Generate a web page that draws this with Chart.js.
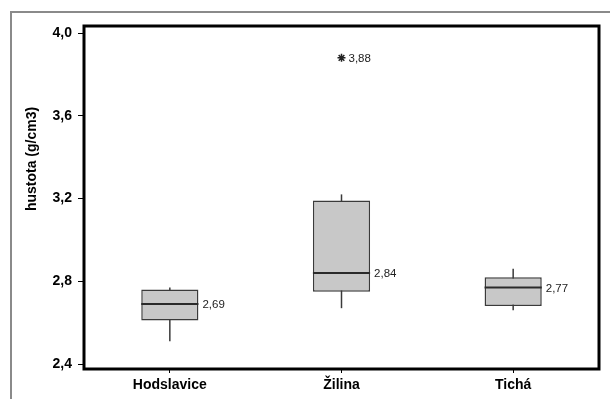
<!DOCTYPE html>
<html>
<head>
<meta charset="utf-8">
<script src="https://cdn.jsdelivr.net/npm/chart.js@4.4.1/dist/chart.umd.min.js"></script>
<style>
  body { margin: 0; background: #fff; }
</style>
</head>
<body>
<canvas id="densityChart" width="610" height="399"></canvas>
<script>
// box plot values (g/cm3)
const categories = ['Hodslavice', 'Žilina', 'Tichá'];
const whiskerLow = [2.51, 2.67, 2.66];
const quartile1 = [2.61, 2.75, 2.68];
const medians = [2.69, 2.84, 2.77];
const quartile3 = [2.76, 3.19, 2.82];
const whiskerHigh = [2.77, 3.22, 2.86];
const outliers = [null, 3.88, null];
const yTicks = [2.4, 2.8, 3.2, 3.6, 4.0];

const FONT = "'Liberation Sans', Arial, sans-serif";

function fmt(v, d) {
    return v.toFixed(d).replace('.', ',');
}

// Whiskers, medians, value labels and frames drawn on top of the library scales
const boxParts = {
    id: 'boxParts',
    beforeDraw(chart) {
        const ctx = chart.ctx;
        ctx.save();
        ctx.strokeStyle = '#8a8a8a';
        ctx.lineWidth = 2;
        ctx.strokeRect(11, 12, 620, 420);
        ctx.restore();
    },
    beforeDatasetsDraw(chart) {
        const ctx = chart.ctx;
        const x = chart.scales.x, y = chart.scales.y;
        ctx.save();
        ctx.strokeStyle = '#3a3a3a';
        ctx.lineWidth = 1.5;
        categories.forEach((c, i) => {
            const px = x.getPixelForValue(i);
            ctx.beginPath();
            ctx.moveTo(px, y.getPixelForValue(whiskerLow[i]));
            ctx.lineTo(px, y.getPixelForValue(whiskerHigh[i]));
            ctx.stroke();
        });
        ctx.restore();
    },
    afterDatasetsDraw(chart) {
        const ctx = chart.ctx;
        const y = chart.scales.y;
        const area = chart.chartArea;
        const bars = chart.getDatasetMeta(0).data;
        ctx.save();
        // median lines + labels
        ctx.font = '11.5px ' + FONT;
        ctx.textBaseline = 'middle';
        ctx.textAlign = 'left';
        bars.forEach((bar, i) => {
            const py = y.getPixelForValue(medians[i]);
            ctx.strokeStyle = '#2a2a2a';
            ctx.lineWidth = 2;
            ctx.beginPath();
            ctx.moveTo(bar.x - bar.width / 2, py);
            ctx.lineTo(bar.x + bar.width / 2, py);
            ctx.stroke();
            ctx.fillStyle = '#222';
            ctx.fillText(fmt(medians[i], 2), bar.x + bar.width / 2 + 4, py + 1);
        });
        // outlier label
        chart.getDatasetMeta(1).data.forEach((pt, i) => {
            if (outliers[i] == null) return;
            ctx.fillStyle = '#222';
            ctx.fillText(fmt(outliers[i], 2), pt.x + 7, pt.y + 1);
        });
        // plot border
        ctx.strokeStyle = '#000';
        ctx.lineWidth = 3;
        ctx.strokeRect(area.left, area.top, area.right - area.left, area.bottom - area.top);
        // y axis title
        ctx.translate(32, 159);
        ctx.rotate(-Math.PI / 2);
        ctx.textAlign = 'center';
        ctx.fillStyle = '#000';
        ctx.font = 'bold 14px ' + FONT;
        ctx.fillText('hustota (g/cm3)', 0, 0);
        ctx.restore();
    }
};

const ctx = document.getElementById('densityChart').getContext('2d');
new Chart(ctx, {
    type: 'bar',
    data: {
        labels: categories,
        datasets: [
            {
                label: 'box',
                data: categories.map((c, i) => [quartile1[i], quartile3[i]]),
                backgroundColor: '#c8c8c8',
                borderColor: '#3a3a3a',
                borderWidth: 1.5,
                borderSkipped: false,
                barPercentage: 0.333,
                categoryPercentage: 1,
                grouped: false
            },
            {
                type: 'line',
                label: 'outlier',
                data: outliers,
                showLine: false,
                pointStyle: 'star',
                pointRadius: 4,
                borderColor: '#222',
                backgroundColor: '#222',
                pointBorderWidth: 1.5
            }
        ]
    },
    options: {
        responsive: false,
        animation: false,
        layout: { padding: { top: 26, right: 11, bottom: 0, left: 0 } },
        plugins: {
            legend: { display: false },
            tooltip: { enabled: false }
        },
        scales: {
            x: {
                afterFit: s => { s.height = 30; },
                grid: { drawOnChartArea: false, offset: false, tickLength: 4, color: '#000' },
                border: { display: false },
                ticks: { padding: 4, color: '#000', font: { family: FONT, size: 14, weight: 'bold' } }
            },
            y: {
                min: 2.376,
                max: 4.034,
                afterBuildTicks: s => { s.ticks = yTicks.map(v => ({ value: v })); },
                afterFit: s => { s.width = 84; },
                grid: { drawOnChartArea: false, tickLength: 6, color: '#000' },
                border: { display: false },
                ticks: {
                    padding: 6,
                    color: '#000',
                    font: { family: FONT, size: 14, weight: 'bold' },
                    callback: v => fmt(v, 1)
                }
            }
        }
    },
    plugins: [boxParts]
});
</script>
</body>
</html>
